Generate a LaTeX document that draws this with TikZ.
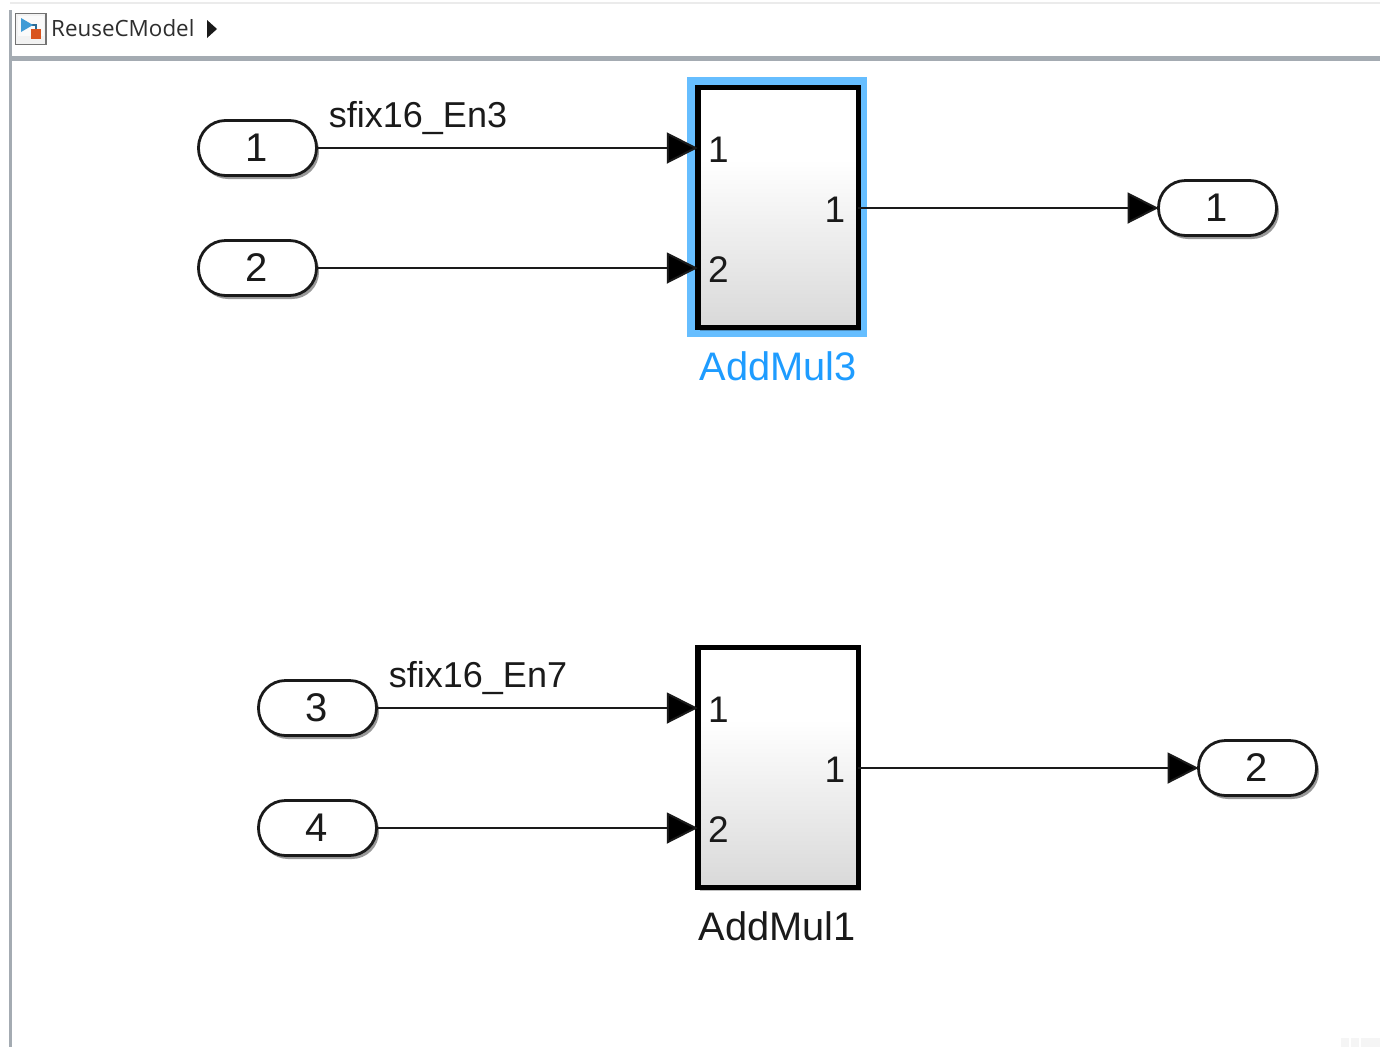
\documentclass[tikz,border=0pt]{standalone}
\usepackage{fontspec}
\setmainfont{Liberation Sans}
\newfontfamily\uifont{Open Sans}
\usetikzlibrary{arrows.meta,shadows}
\definecolor{ink}{HTML}{1A1A1A}
\definecolor{hilite}{HTML}{66BEFF}
\definecolor{selname}{HTML}{1E9CFF}
\definecolor{barline}{HTML}{A4ABB2}
\definecolor{iconblue}{HTML}{3E9BD6}
\definecolor{iconred}{HTML}{D9541E}
\pgfdeclareverticalshading{blockfill}{100bp}{color(0bp)=(white!85!black); color(25bp)=(white!85!black); color(60bp)=(white); color(100bp)=(white)}
\tikzset{
  x=1pt,y=-1pt,
  port/.style={draw=ink,line width=2.8pt,rounded corners=27pt,fill=white,minimum width=118pt,minimum height=55pt,inner sep=0pt,outer sep=0pt,
    font=\fontsize{40}{40}\selectfont,text=ink,execute at begin node=\kern-2pt,
    drop shadow={shadow xshift=2.5pt,shadow yshift=-3.5pt,opacity=.4,fill=black}},
  block/.style={draw=black,line width=5.5pt,minimum width=160.5pt,minimum height=240pt,inner sep=0pt,outer sep=0pt,
    shade,shading=blockfill,
    drop shadow={shadow xshift=2.5pt,shadow yshift=-3pt,opacity=.25,fill=black}},
  conn/.style={draw=ink,line width=2pt,-{Triangle[length=31pt,width=31pt,fill=black]}},
  portnum/.style={font=\fontsize{37}{37}\selectfont,text=ink,inner sep=0pt},
  blockname/.style={font=\fontsize{39.8}{40}\selectfont,inner sep=0pt,text=ink},
  signame/.style={font=\fontsize{36}{36}\selectfont,inner sep=0pt,text=ink},
}
\begin{document}
\begin{tikzpicture}
\useasboundingbox (0,0) rectangle (1380,1047);
\fill[white] (0,0) rectangle (1380,1047);
% window chrome
\fill[black!8] (10,2) rectangle (1380,4);
\fill[barline] (10,56) rectangle (1380,61);
\fill[barline] (9,10) rectangle (11.5,1047);
\fill[black!4] (1341,1038) rectangle (1349,1047);
\fill[black!4] (1351,1038) rectangle (1359,1047);
\fill[black!4] (1361,1038) rectangle (1380,1047);
% breadcrumb
\draw[draw=black!55,line width=1.5pt,fill=black!5] (15.5,13.5) rectangle (46,44.5);
\fill[black!2] (18,16) rectangle (43.5,36);
\draw[iconblue!70!black,line width=1.2pt] (30,25) -- (36,25) -- (36,30);
\fill[iconred] (31,29) rectangle (41,39);
\fill[iconblue] (21,18) -- (33,25) -- (21,32) -- cycle;
\node[font=\uifont\fontsize{22.4}{25}\selectfont,text=black!82,anchor=west,inner sep=0pt] (crumb) at (51,28.5) {ReuseCModel};
\fill[ink] (207,20) -- (217,29) -- (207,38) -- cycle;
% selection
\fill[hilite] (687,77) rectangle (867,337);
% blocks
\node[block] (blkA) at (778,207.5) {};
\node[block] (blkB) at (778,767.5) {};
\node[portnum] (a1) at (718.5,149.5) {1};
\node[portnum] (a2) at (718.5,269.5) {2};
\node[portnum] (a3) at (835,209.5) {1};
\node[portnum] (b1) at (718.5,709.5) {1};
\node[portnum] (b2) at (718.5,829.5) {2};
\node[portnum] (b3) at (835,769.5) {1};
\node[blockname,text=selname] (nameA) at (778,366) {AddMul3};
\node[blockname] (nameB) at (777,926.5) {AddMul1};
% ports
\node[port] (in1) at (257.5,148) {1};
\node[port] (in2) at (257.5,268) {2};
\node[port] (in3) at (317.5,708) {3};
\node[port] (in4) at (317.5,828) {4};
\node[port] (out1) at (1217.5,208) {1};
\node[port] (out2) at (1257.5,768) {2};
% connector end points on the block edges
\coordinate (pa1) at (blkA.west |- in1);
\coordinate (pa2) at (blkA.west |- in2);
\coordinate (pb1) at (blkB.west |- in3);
\coordinate (pb2) at (blkB.west |- in4);
\coordinate (qa) at (blkA.east |- out1);
\coordinate (qb) at (blkB.east |- out2);
\draw[conn] (in1.east) -- (pa1);
\draw[conn] (in2.east) -- (pa2);
\draw[conn] (in3.east) -- (pb1);
\draw[conn] (in4.east) -- (pb2);
\draw[conn] (qa) -- (out1.west);
\draw[conn] (qb) -- (out2.west);
% signal names
\node[signame] (sigA) at (418,118) {sfix16\_En3};
\node[signame] (sigB) at (478,678) {sfix16\_En7};
\end{tikzpicture}
\end{document}
